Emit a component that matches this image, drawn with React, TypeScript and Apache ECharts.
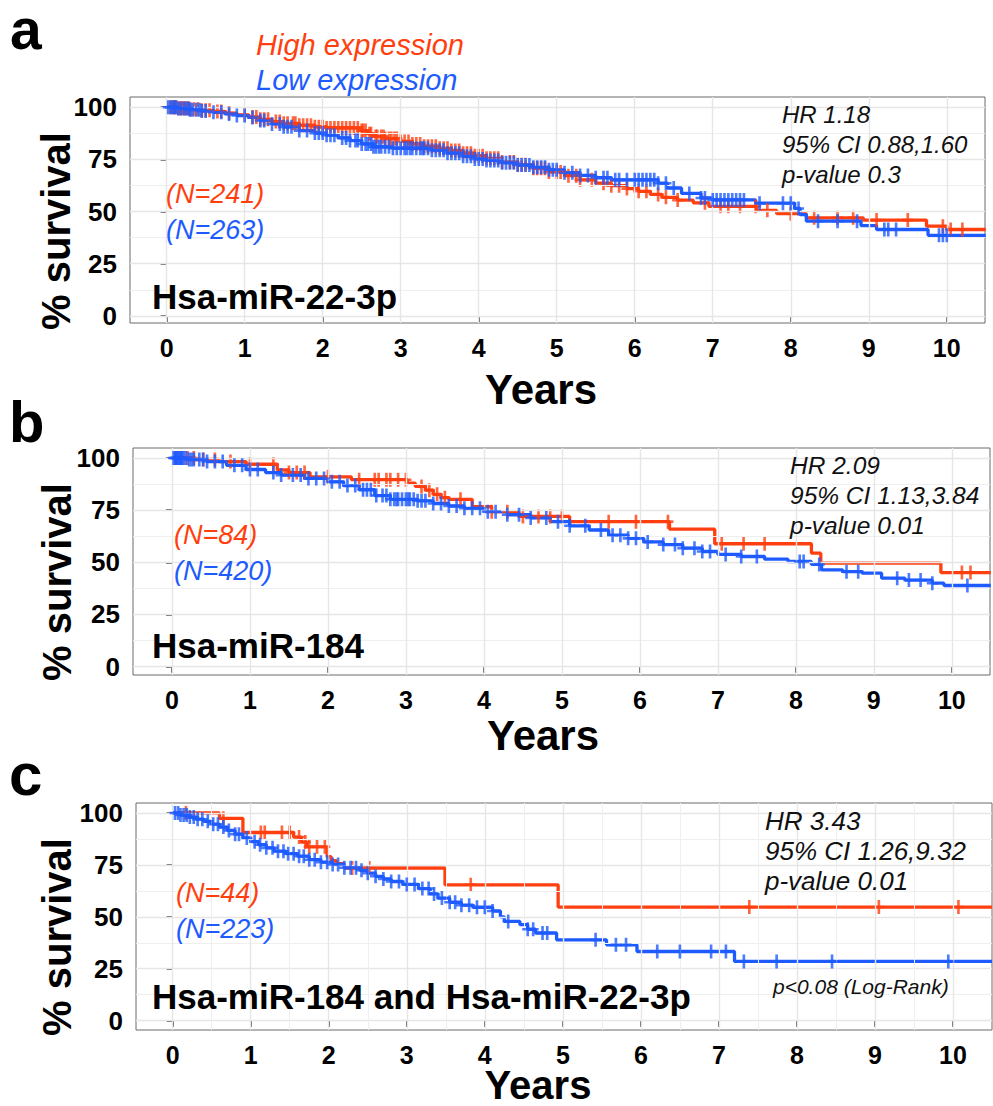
import React, { useEffect, useRef } from 'react';
import * as echarts from 'echarts';

const RED = '#FF3F0F';
const BLUE = '#1E5BFF';
const FONT = "'Liberation Sans', Arial, Helvetica, sans-serif";

// ---------- tick labels ----------
const xTickLabels = [0, 1, 2, 3, 4, 5, 6, 7, 8, 9, 10];
const xTicksEven = [0, 2, 4, 6, 8, 10];
const yTickLabels = [0, 25, 50, 75, 100];
const yMinorGrid = [12.5, 37.5, 62.5, 87.5];
const xHalfGrid = [0.5, 1.5, 2.5, 3.5, 4.5, 5.5, 6.5, 7.5, 8.5, 9.5];

// ---------- panel a : Hsa-miR-22-3p ----------
const highA: [number, number][] = [
  [0, 100], [0.15, 99.5], [0.3, 99], [0.45, 98.5], [0.6, 98], [0.75, 97.2], [0.9, 96.3], [1.05, 95.3],
  [1.2, 94.2], [1.35, 93.1], [1.5, 92.3], [1.7, 91.4], [1.9, 90.6], [2.05, 90.1], [2.5, 88.8], [2.58, 87.3],
  [2.65, 86], [2.8, 85], [3.0, 83.6], [3.15, 82.4], [3.3, 81.3], [3.5, 80.3], [3.65, 79.3], [3.8, 78],
  [3.95, 76.8], [4.1, 75.5], [4.3, 73.8], [4.5, 72.4], [4.7, 70.8], [4.9, 69], [5.1, 67.2], [5.3, 65.2],
  [5.5, 63.6], [5.7, 62.4], [5.9, 61], [6.05, 59.7], [6.2, 58.2], [6.35, 56.8], [6.55, 55.5], [6.75, 54.2],
  [6.95, 52.5], [7.56, 50.6], [7.82, 49], [8.2, 47], [8.93, 45.9], [9.74, 43], [10.0, 41.4], [10.5, 41.4],
];
const lowA: [number, number][] = [
  [0, 100], [0.15, 99.4], [0.3, 98.8], [0.45, 98.2], [0.6, 97.6], [0.75, 96.8], [0.9, 96], [1.05, 95.1],
  [1.2, 93.6], [1.35, 92], [1.5, 90.6], [1.7, 88.8], [1.9, 87.6], [2.05, 86.6], [2.2, 85.3], [2.35, 84],
  [2.5, 82.4], [2.65, 81], [2.9, 80.4], [3.4, 79.4], [3.6, 78], [3.8, 76.5], [3.95, 75.2], [4.1, 74.5],
  [4.3, 73.4], [4.5, 72.3], [4.7, 71.2], [4.9, 70], [5.1, 68.6], [5.3, 67.3], [5.5, 66.2], [5.7, 65.2],
  [6.3, 63.6], [6.42, 61.3], [6.6, 58.7], [6.85, 56.5], [7.0, 55.6], [7.55, 54], [8.05, 51.5], [8.12, 48.5],
  [8.2, 45.4], [8.9, 43.3], [9.1, 41.4], [9.76, 38.6], [10.5, 38.6],
];
const highACensor = [
  0.05, 0.08, 0.1, 0.12, 0.15, 0.18, 0.2, 0.22, 0.25, 0.28, 0.3, 0.35, 0.4, 0.45, 0.5, 0.55, 0.65, 0.7, 0.8,
  1.0, 1.1, 1.15, 1.2, 1.25, 1.3, 1.4, 1.45, 1.5, 1.55, 1.62, 1.65, 1.7, 1.75, 1.8, 1.85, 1.9, 1.95, 2.0,
  2.05, 2.1, 2.15, 2.2, 2.25, 2.3, 2.35, 2.4, 2.45, 2.5, 2.52, 2.55, 2.6, 2.62, 2.68, 2.7, 2.75, 2.78, 2.8,
  2.85, 2.88, 2.92, 2.95, 3.0, 3.05, 3.1, 3.15, 3.2, 3.25, 3.3, 3.35, 3.4, 3.45, 3.5, 3.55, 3.6, 3.65, 3.7,
  3.75, 3.8, 3.85, 3.9, 3.95, 4.0, 4.05, 4.1, 4.15, 4.2, 4.25, 4.3, 4.4, 4.45, 4.5, 4.55, 4.6, 4.7, 4.75,
  4.8, 4.85, 4.9, 5.0, 5.05, 5.15, 5.25, 5.3, 5.45, 5.6, 5.7, 5.8, 5.9, 6.05, 6.15, 6.3, 6.4, 6.55, 6.9,
  7.1, 7.2, 7.35, 7.55, 7.7, 8.0, 8.3, 8.6, 8.8, 9.1, 9.5, 9.95, 10.05, 10.2,
];
const lowACensor = [
  0.02, 0.05, 0.08, 0.1, 0.12, 0.15, 0.18, 0.22, 0.25, 0.28, 0.3, 0.33, 0.38, 0.42, 0.45, 0.5, 0.6, 0.7,
  0.8, 0.9, 1.0, 1.1, 1.2, 1.25, 1.35, 1.45, 1.5, 1.55, 1.6, 1.7, 1.8, 1.9, 1.95, 2.0, 2.05, 2.1, 2.15, 2.25,
  2.3, 2.35, 2.42, 2.45, 2.5, 2.55, 2.58, 2.62, 2.65, 2.68, 2.72, 2.75, 2.8, 2.85, 2.9, 2.95, 3.0, 3.05,
  3.08, 3.12, 3.15, 3.2, 3.25, 3.28, 3.3, 3.35, 3.4, 3.45, 3.5, 3.55, 3.6, 3.65, 3.7, 3.75, 3.8, 3.85, 3.9,
  3.95, 4.0, 4.05, 4.1, 4.15, 4.2, 4.25, 4.3, 4.35, 4.4, 4.45, 4.5, 4.55, 4.6, 4.65, 4.7, 4.75, 4.8, 4.85,
  4.9, 4.95, 5.0, 5.1, 5.2, 5.3, 5.4, 5.5, 5.6, 5.65, 5.75, 5.8, 5.9, 6.0, 6.05, 6.1, 6.15, 6.2, 6.25, 6.3,
  6.4, 6.5, 6.7, 6.85, 6.9, 7.0, 7.05, 7.1, 7.15, 7.2, 7.25, 7.3, 7.35, 7.4, 7.6, 7.9, 8.0, 8.1, 8.35, 8.6,
  8.85, 9.2, 9.25, 9.35, 9.9, 9.95, 10.0,
];

// ---------- panel b : Hsa-miR-184 ----------
const highB: [number, number][] = [
  [0, 100], [0.3, 99.3], [0.6, 98.3], [0.95, 97], [1.35, 94.3], [1.5, 93], [1.77, 91], [2.3, 89.6],
  [3.02, 88], [3.12, 86.4], [3.25, 84.6], [3.35, 82.6], [3.45, 81], [3.55, 80.2], [3.85, 76.7], [4.1, 74.3],
  [4.45, 72], [5.1, 69.5], [6.38, 65.9], [6.96, 58.9], [8.2, 54.4], [8.32, 49.6], [9.86, 45.1], [10.5, 45.1],
];
const lowB: [number, number][] = [
  [0, 100], [0.2, 99.3], [0.45, 98.3], [0.7, 96.5], [0.95, 94.5], [1.2, 93], [1.4, 91.8], [1.7, 90.2],
  [2.0, 88.6], [2.2, 86.8], [2.4, 84.8], [2.6, 82], [2.8, 80.2], [3.15, 79.5], [3.35, 78.2], [3.55, 77],
  [3.75, 75.9], [4.0, 74.3], [4.3, 72.8], [4.6, 71.3], [4.85, 69.5], [5.1, 67.5], [5.35, 65.5], [5.6, 63],
  [5.85, 61.5], [6.05, 59.8], [6.3, 58.5], [6.55, 56.8], [6.8, 55.2], [7.0, 53.8], [7.3, 52.8], [7.6, 51.5],
  [7.9, 50.4], [8.2, 49], [8.33, 46.4], [8.6, 45.5], [8.85, 44.8], [9.1, 42.4], [9.4, 41.5], [9.75, 40],
  [9.9, 38.9], [10.5, 38.9],
];
const highBCensor = [
  0.05, 0.12, 0.2, 0.28, 0.4, 0.55, 0.75, 1.0, 1.3, 1.5, 1.6, 1.7, 2.0, 2.4, 2.6, 2.65, 2.75, 2.8, 2.9, 3.0,
  3.2, 3.3, 3.4, 3.5, 3.7, 4.1, 4.3, 4.5, 4.7, 4.85, 5.0, 5.6, 5.95, 6.36, 7.05, 7.33, 7.6, 10.13, 10.24,
];
const lowBCensor = [
  0.02, 0.04, 0.05, 0.07, 0.08, 0.1, 0.11, 0.13, 0.15, 0.18, 0.22, 0.25, 0.28, 0.35, 0.4, 0.45, 0.55, 0.65,
  0.8, 0.9, 1.0, 1.1, 1.3, 1.4, 1.55, 1.65, 1.75, 1.85, 1.95, 2.05, 2.15, 2.25, 2.35, 2.45, 2.5, 2.55, 2.62,
  2.7, 2.75, 2.8, 2.85, 2.88, 2.9, 2.95, 3.0, 3.03, 3.05, 3.1, 3.15, 3.2, 3.25, 3.35, 3.45, 3.55, 3.65, 3.75,
  3.85, 3.95, 4.05, 4.15, 4.3, 4.45, 4.6, 4.8, 4.95, 5.1, 5.3, 5.5, 5.65, 5.75, 5.85, 5.95, 6.1, 6.3, 6.45,
  6.55, 6.7, 6.8, 6.9, 7.1, 7.3, 7.5, 8.05, 8.1, 8.3, 8.65, 8.8, 9.3, 9.45, 9.6, 9.75, 10.2,
];

// ---------- panel c : Hsa-miR-184 and Hsa-miR-22-3p ----------
const highC: [number, number][] = [
  [0, 100], [0.6, 97.4], [0.9, 90.6], [1.55, 88.4], [1.65, 86], [1.72, 83.7], [1.98, 79], [2.03, 77],
  [2.1, 75.6], [2.2, 73.5], [3.49, 65.4], [4.94, 54.7], [10.5, 54.7],
];
const lowC: [number, number][] = [
  [0, 100], [0.1, 99], [0.2, 98], [0.3, 97], [0.4, 96], [0.5, 94.6], [0.6, 93.2], [0.7, 91.6], [0.8, 89.8],
  [0.9, 88], [1.0, 86.2], [1.1, 84.7], [1.2, 83.2], [1.3, 81.6], [1.45, 80.4], [1.6, 79.2], [1.75, 77.5],
  [1.9, 76.3], [2.05, 75.2], [2.2, 73.6], [2.4, 72.4], [2.5, 71], [2.6, 69.5], [2.7, 68.2], [2.8, 67],
  [2.95, 65.6], [3.15, 63.6], [3.3, 61], [3.4, 59], [3.55, 57], [3.7, 55.6], [3.85, 54.6], [4.1, 52.8],
  [4.2, 50], [4.25, 47.8], [4.45, 46.2], [4.55, 44], [4.65, 42.2], [4.92, 38.9], [5.56, 36.5], [5.95, 33.3],
  [7.2, 28.5], [10.5, 28.5],
];
const highCCensor = [0.17, 0.65, 1.13, 1.18, 1.4, 1.5, 1.62, 1.7, 1.75, 1.85, 1.95, 2.3, 2.52, 3.82, 7.39, 9.05, 10.07];
const lowCCensor = [
  0.03, 0.07, 0.1, 0.14, 0.18, 0.22, 0.27, 0.32, 0.38, 0.45, 0.52, 0.58, 0.65, 0.72, 0.8, 0.85, 0.95, 1.05,
  1.12, 1.2, 1.28, 1.35, 1.42, 1.48, 1.55, 1.62, 1.68, 1.75, 1.82, 1.9, 1.98, 2.05, 2.12, 2.2, 2.28, 2.35,
  2.42, 2.5, 2.6, 2.7, 2.8, 2.9, 3.0, 3.1, 3.2, 3.28, 3.35, 3.45, 3.55, 3.62, 3.7, 3.8, 3.9, 4.0, 4.1, 4.3,
  4.55, 4.62, 4.74, 4.8, 5.42, 5.68, 5.81, 6.21, 6.5, 6.9, 7.09, 7.32, 7.74, 8.45, 9.94,
];

const CENSOR_SYMBOL = 'path://M3.8,0H6.2V5.3H10V7.7H6.2V13H3.8V7.7H0V5.3H3.8Z';

function survAt(steps: [number, number][], t: number): number {
  let s = steps[0][1];
  for (const [tt, ss] of steps) {
    if (tt <= t) s = ss;
    else break;
  }
  return s;
}

type Panel = {
  high: [number, number][];
  low: [number, number][];
  highCensor: number[];
  lowCensor: number[];
  grid: { left: number; top: number; width: number; height: number };
  xMin: number; xMax: number; yMin: number; yMax: number;
  xTicks: number[];
  xGrid: number[];
};

const panels: Panel[] = [
  {
    high: highA, low: lowA, highCensor: highACensor, lowCensor: lowACensor,
    grid: { left: 130, top: 97, width: 855, height: 226 },
    xMin: -0.47, xMax: 10.49, yMin: -3.4, yMax: 104.9,
    xTicks: xTicksEven, xGrid: [],
  },
  {
    high: highB, low: lowB, highCensor: highBCensor, lowCensor: lowBCensor,
    grid: { left: 133, top: 448, width: 857, height: 227 },
    xMin: -0.5, xMax: 10.49, yMin: -4, yMax: 104.8,
    xTicks: xTicksEven, xGrid: [],
  },
  {
    high: highC, low: lowC, highCensor: highCCensor, lowCensor: lowCCensor,
    grid: { left: 136, top: 803, width: 856, height: 227 },
    xMin: -0.47, xMax: 10.5, yMin: -4.5, yMax: 104.8,
    xTicks: xTickLabels, xGrid: xHalfGrid,
  },
];

function txt(text: string, x: number, y: number, size: number, color: string, opts: any = {}) {
  return {
    type: 'text',
    x, y,
    z: 100,
    rotation: opts.rotation || 0,
    silent: true,
    style: {
      text,
      fill: color,
      fontSize: size,
      fontWeight: opts.bold ? 'bold' : 'normal',
      fontStyle: opts.italic ? 'italic' : 'normal',
      fontFamily: FONT,
      align: opts.align || 'left',
      verticalAlign: 'middle',
      lineHeight: opts.lineHeight || Math.round(size * 1.1),
    },
  };
}

export default function App() {
  const ref = useRef<HTMLDivElement>(null);
  useEffect(() => {
    if (!ref.current) return;
    const chart = echarts.init(ref.current, undefined, { renderer: 'svg' });
    const series: any[] = [];
    panels.forEach((p, i) => {
      const gridData: any[] = [];
      yTickLabels.forEach((v) => gridData.push({ yAxis: v, lineStyle: { color: '#E6E6E6', width: 1.4 } }));
      yMinorGrid.forEach((v) => gridData.push({ yAxis: v, lineStyle: { color: '#EFEFEF', width: 1 } }));
      xTickLabels.forEach((v) => gridData.push({ xAxis: v, lineStyle: { color: '#E6E6E6', width: 1.4 } }));
      p.xGrid.forEach((v) => gridData.push({ xAxis: v, lineStyle: { color: '#EFEFEF', width: 1 } }));
      series.push({
        type: 'line', xAxisIndex: i, yAxisIndex: i, data: [], z: 0, silent: true,
        markLine: {
          silent: true, symbol: ['none', 'none'], label: { show: false },
          lineStyle: { type: 'solid' }, emphasis: { disabled: true },
          data: gridData,
        },
      });
      series.push({
        type: 'line', xAxisIndex: i, yAxisIndex: i, step: 'end', data: p.high, showSymbol: false,
        lineStyle: { color: RED, width: 3.3 }, z: 2, silent: true,
      });
      series.push({
        type: 'line', xAxisIndex: i, yAxisIndex: i, step: 'end', data: p.low, showSymbol: false,
        lineStyle: { color: BLUE, width: 3.3 }, z: 3, silent: true,
      });
      series.push({
        type: 'scatter', xAxisIndex: i, yAxisIndex: i, symbol: CENSOR_SYMBOL, symbolSize: [11, 14],
        data: p.highCensor.map((t) => [t, survAt(p.high, t)]),
        itemStyle: { color: RED }, z: 4, silent: true,
      });
      series.push({
        type: 'scatter', xAxisIndex: i, yAxisIndex: i, symbol: CENSOR_SYMBOL, symbolSize: [11, 14],
        data: p.lowCensor.map((t) => [t, survAt(p.low, t)]),
        itemStyle: { color: BLUE }, z: 5, silent: true,
      });
    });

    const graphic: any[] = [
      txt('a', 10, 29, 57, '#000', { bold: true, lineHeight: 40 }),
      txt('b', 9, 421, 58, '#000', { bold: true, lineHeight: 44 }),
      txt('c', 9, 774, 60, '#000', { bold: true, lineHeight: 40 }),
      txt('High expression', 256, 45, 29, RED, { italic: true }),
      txt('Low expression', 256, 80, 29, BLUE, { italic: true }),
      // panel a
      txt('(N=241)', 166, 194, 27, RED, { italic: true }),
      txt('(N=263)', 166, 230, 27, BLUE, { italic: true }),
      txt('Hsa-miR-22-3p', 152, 296, 35, '#000', { bold: true }),
      txt('HR 1.18', 782, 114, 24, '#111', { italic: true }),
      txt('95% CI 0.88,1.60', 782, 144, 24, '#111', { italic: true }),
      txt('p-value 0.3', 782, 174, 24, '#111', { italic: true }),
      txt('Years', 541, 389, 42, '#000', { bold: true, align: 'center', lineHeight: 34 }),
      txt('% survival', 56, 231, 40, '#000', { bold: true, align: 'center', rotation: Math.PI / 2, lineHeight: 36 }),
      // panel b
      txt('(N=84)', 174, 535, 27, RED, { italic: true }),
      txt('(N=420)', 174, 571, 27, BLUE, { italic: true }),
      txt('Hsa-miR-184', 152, 645, 35, '#000', { bold: true }),
      txt('HR 2.09', 790, 465, 24.5, '#111', { italic: true }),
      txt('95% CI 1.13,3.84', 790, 495, 24.5, '#111', { italic: true }),
      txt('p-value 0.01', 790, 525, 24.5, '#111', { italic: true }),
      txt('Years', 543, 735, 42, '#000', { bold: true, align: 'center', lineHeight: 34 }),
      txt('% survival', 57, 582, 40, '#000', { bold: true, align: 'center', rotation: Math.PI / 2, lineHeight: 36 }),
      // panel c
      txt('(N=44)', 176, 893, 27, RED, { italic: true }),
      txt('(N=223)', 176, 929, 27, BLUE, { italic: true }),
      txt('Hsa-miR-184 and Hsa-miR-22-3p', 152, 996, 35, '#000', { bold: true }),
      txt('HR 3.43', 765, 821, 26, '#111', { italic: true }),
      txt('95% CI 1.26,9.32', 765, 851, 26, '#111', { italic: true }),
      txt('p-value 0.01', 765, 881, 26, '#111', { italic: true }),
      txt('p<0.08 (Log-Rank)', 773, 986, 21, '#111', { italic: true }),
      txt('Years', 538, 1085, 40, '#000', { bold: true, align: 'center', lineHeight: 32 }),
      txt('% survival', 57, 937, 40, '#000', { bold: true, align: 'center', rotation: Math.PI / 2, lineHeight: 36 }),
    ];

    chart.setOption({
      animation: false,
      backgroundColor: '#fff',
      grid: panels.map((p) => ({
        ...p.grid, show: true, borderColor: '#6b6b6b', borderWidth: 1, backgroundColor: 'transparent',
        containLabel: false,
      })),
      xAxis: panels.map((p, i) => ({
        type: 'value', gridIndex: i, min: p.xMin, max: p.xMax,
        axisLine: { show: false },
        axisTick: { show: true, length: 6, lineStyle: { color: '#333', width: 1.5 }, customValues: p.xTicks },
        axisLabel: {
          customValues: xTickLabels, fontSize: 25, fontWeight: 'bold', color: '#000',
          fontFamily: FONT, margin: 12,
        },
        splitLine: { show: false },
      })),
      yAxis: panels.map((p, i) => ({
        type: 'value', gridIndex: i, min: p.yMin, max: p.yMax,
        axisLine: { show: false },
        axisTick: { show: true, length: 6, lineStyle: { color: '#333', width: 1.5 }, customValues: yTickLabels },
        axisLabel: {
          customValues: yTickLabels, fontSize: 26, fontWeight: 'bold', color: '#000',
          fontFamily: FONT, margin: 13,
        },
        splitLine: { show: false },
      })),
      series,
      graphic,
    });
    return () => chart.dispose();
  }, []);
  return <div ref={ref} style={{ position: 'absolute', left: 0, top: 0, width: 993, height: 1106 }} />;
}
